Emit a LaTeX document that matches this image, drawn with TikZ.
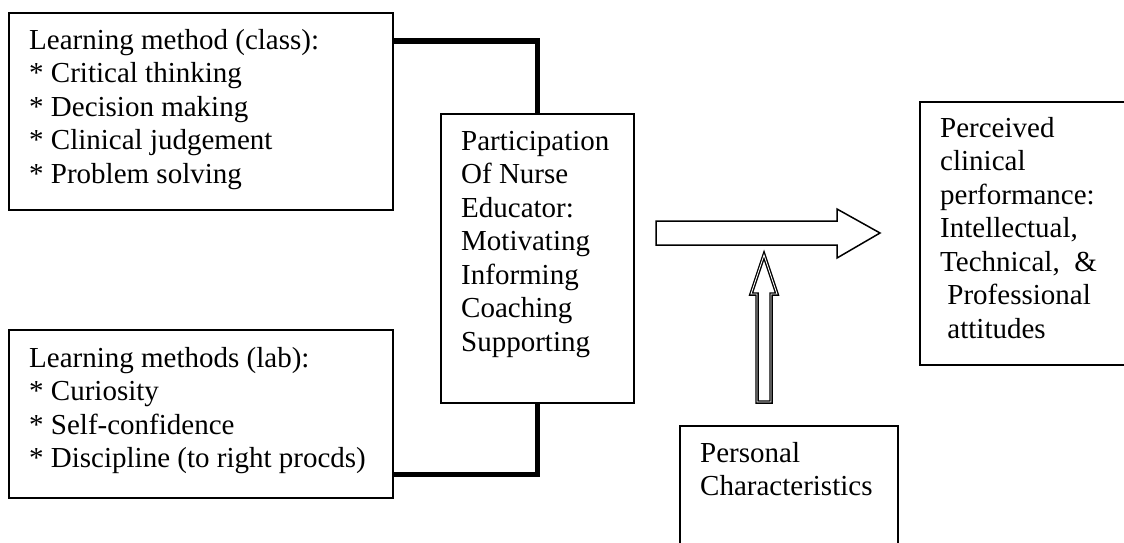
\documentclass[tikz,border=0pt]{standalone}
\usepackage{fontspec}
\setmainfont{Liberation Serif}
\usetikzlibrary{positioning}
\newcommand{\firstln}{\rule{0pt}{23pt}}

\begin{document}
\begin{tikzpicture}[
  x=1pt, y=-1pt,
  box/.style={draw, line width=1.5pt, inner sep=0pt, anchor=north west},
  txt/.style={anchor=north west, inner sep=0pt, align=left,
    font=\fontsize{29}{33.5}\selectfont},
  link/.style={line width=5.5pt},
  blockarrow/.style={draw, line width=1.5pt, fill=white, line join=miter},
  dblarrow/.style={draw, line width=1.3pt, double=white, double distance=0.9pt, line join=miter},
]
  \useasboundingbox (0,0) rectangle (1124,542);
  \clip (0,0) rectangle (1124,542);

  % Learning methods, class and lab
  \node[box, minimum width=384, minimum height=197] (cls) at (8,12) {};
  \node[txt] (cls-txt) at ([shift={(21,14)}]cls.north west)
    {\firstln Learning method (class):\\ * Critical thinking\\ * Decision making\\
     * Clinical judgement\\ * Problem solving};

  \node[box, minimum width=384, minimum height=168] (lab) at (8,329) {};
  \node[txt] (lab-txt) at ([shift={(21,15)}]lab.north west)
    {\firstln Learning methods (lab):\\ * Curiosity\\ * Self-confidence\\
     * Discipline (to right procds)};

  % Nurse educator in the middle
  \node[box, minimum width=193, minimum height=289] (edu) at (440,113) {};
  \node[txt] (edu-txt) at ([shift={(21,14)}]edu.north west)
    {\firstln Participation\\ Of Nurse\\ Educator:\\ Motivating\\ Informing\\
     Coaching\\ Supporting};

  % Outcome box, runs off the right edge
  \node[box, minimum width=230, minimum height=263] (perf) at (919,101) {};
  \node[txt] (perf-txt) at ([shift={(21,13)}]perf.north west)
    {\firstln Perceived\\ clinical\\ performance:\\ Intellectual,\\
     Technical,~~\&\\ ~Professional\\ ~attitudes};

  % Personal characteristics, runs off the bottom
  \node[box, minimum width=218, minimum height=140] (pers) at (679,425) {};
  \node[txt] (pers-txt) at ([shift={(21,14)}]pers.north west)
    {\firstln Personal\\ Characteristics};

  % Thick links into the educator box
  \draw[link] ([yshift=-29pt]cls.north east) -| (edu.north);
  \draw[link] ([yshift=24pt]lab.south east) -| (edu.south);

  % Block arrows
  \coordinate (flow-tail) at (656,233);
  \coordinate (flow-tip) at (880,233);
  \draw[blockarrow] ([yshift=12pt]flow-tail) -- ++(181,0) -- ++(0,-12) -- (flow-tip)
    -- ++(-43,25) -- ++(0,-13) -- ([yshift=-12pt]flow-tail) -- cycle;

  \coordinate (up-tip) at (764,255);
  \draw[dblarrow] (up-tip) -- (777,294) -- (771,294) -- (771,402)
    -- (757,402) -- (757,294) -- (751,294) -- cycle;
\end{tikzpicture}
\end{document}
